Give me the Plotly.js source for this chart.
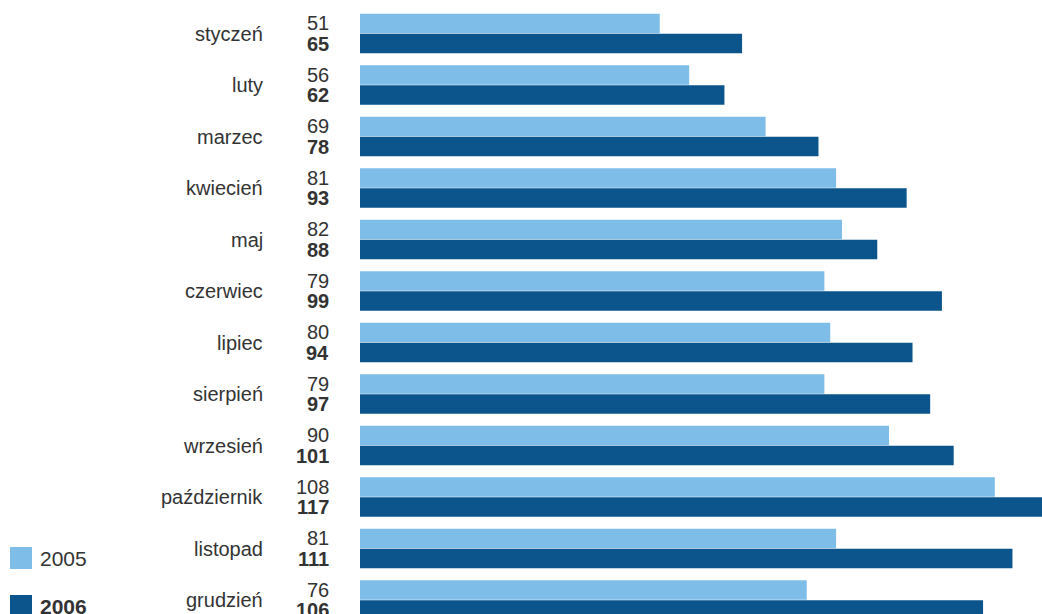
<!DOCTYPE html>
<html>
<head>
<meta charset="utf-8">
<script src="https://cdn.plot.ly/plotly-3.0.1.min.js"></script>
<style>html,body{margin:0;padding:0;background:#fff;}#chart{width:1042px;height:614px;}</style>
</head>
<body>
<div id="chart"></div>
<script>
const months = ["styczeń","luty","marzec","kwiecień","maj","czerwiec","lipiec","sierpień","wrzesień","październik","listopad","grudzień"];
const values2005 = [51,56,69,81,82,79,80,79,90,108,81,76];
const values2006 = [65,62,78,93,88,99,94,97,101,117,111,106];
const seriesNames = ["2005","2006"];

const W = 1042, H = 614;
const plotLeft = 360;
const colLight = "#7fbde9", colDark = "#0b558c";
const textCol = "#333333";
const FONT = "Liberation Sans, Arial, sans-serif";

const idx = months.map((m,i)=>i);
const barGap = 0.222;
const half = (1-barGap)/4;

const traces = [
  {type:"bar", orientation:"h", name:seriesNames[0], y:idx, x:values2005, marker:{color:colLight}, hoverinfo:"x"},
  {type:"bar", orientation:"h", name:seriesNames[1], y:idx, x:values2006, marker:{color:colDark}, hoverinfo:"x"}
];

const annotations = [];
months.forEach((m,i)=>{
  annotations.push({xref:"paper", yref:"y", x:265/W, y:i, text:m, showarrow:false, xanchor:"right", yanchor:"middle", font:{family:FONT,size:20,color:textCol}});
  annotations.push({xref:"paper", yref:"y", x:331/W, y:i-half, text:String(values2005[i]), showarrow:false, xanchor:"right", yanchor:"middle", font:{family:FONT,size:20,color:textCol}});
  annotations.push({xref:"paper", yref:"y", x:331/W, y:i+half, text:"<b>"+values2006[i]+"</b>", showarrow:false, xanchor:"right", yanchor:"middle", font:{family:FONT,size:20,color:textCol}});
});
// legend
annotations.push({xref:"paper", yref:"paper", x:38/W, y:1-558/H, text:seriesNames[0], showarrow:false, xanchor:"left", yanchor:"middle", font:{family:FONT,size:21,color:textCol}});
annotations.push({xref:"paper", yref:"paper", x:38/W, y:1-606/H, text:"<b>"+seriesNames[1]+"</b>", showarrow:false, xanchor:"left", yanchor:"middle", font:{family:FONT,size:21,color:textCol}});

const shapes = [
  {type:"rect", xref:"paper", yref:"paper", x0:10/W, x1:32/W, y0:1-569/H, y1:1-547/H, fillcolor:colLight, line:{width:0}},
  {type:"rect", xref:"paper", yref:"paper", x0:10/W, x1:32/W, y0:1-617/H, y1:1-595/H, fillcolor:colDark, line:{width:0}}
];

const rowPx = 51.5, firstCenter = 33.5;
const yTop = -firstCenter/rowPx;
const yBottom = yTop + H/rowPx;

const layout = {
  width:W, height:H,
  margin:{l:0,r:0,t:0,b:0,pad:0},
  paper_bgcolor:"#ffffff", plot_bgcolor:"#ffffff",
  barmode:"group", bargap:barGap, bargroupgap:0.02,
  showlegend:false,
  xaxis:{domain:[plotLeft/W,1], range:[0,(W-plotLeft)/5.878], showgrid:false, zeroline:false, showticklabels:false, showline:false, ticks:""},
  yaxis:{range:[yBottom,yTop], showgrid:false, zeroline:false, showticklabels:false, showline:false, ticks:""},
  annotations:annotations,
  shapes:shapes,
  font:{family:FONT,color:textCol}
};

Plotly.newPlot("chart", traces, layout, {displayModeBar:false, staticPlot:true});
</script>
</body>
</html>
